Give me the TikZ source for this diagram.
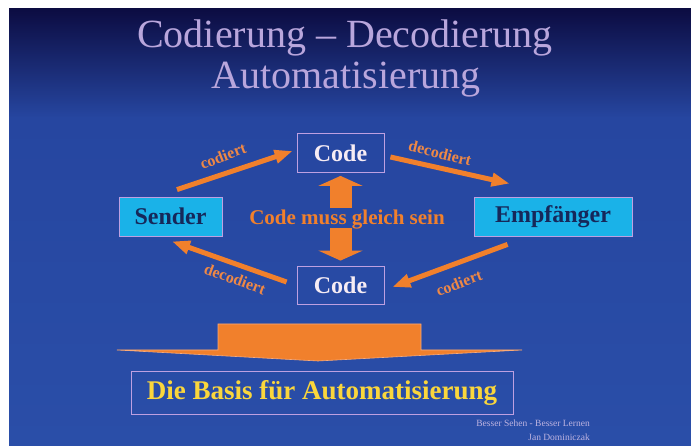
\documentclass[tikz,border=0pt]{standalone}
\usepackage{fontspec}
\setmainfont{Liberation Serif}
\usetikzlibrary{arrows.meta,calc}
\definecolor{bgtop}{RGB}{12,12,66}
\definecolor{bgmid}{RGB}{38,70,160}
\definecolor{bgbot}{RGB}{42,78,168}
\definecolor{lav}{RGB}{185,166,220}
\definecolor{boxline}{RGB}{190,160,225}
\definecolor{cyanfill}{RGB}{26,178,232}
\definecolor{navytext}{RGB}{22,40,90}
\definecolor{orng}{RGB}{241,128,44}
\definecolor{orlab}{RGB}{238,136,70}
\definecolor{orlight}{RGB}{250,170,120}
\definecolor{codetxt}{RGB}{246,236,244}
\definecolor{yel}{RGB}{250,214,60}
\definecolor{foot}{RGB}{190,180,225}
\begin{document}
\begin{tikzpicture}[x=1pt,y=-1pt,
  cbox/.style={draw=boxline, line width=0.8pt, fill=cyanfill, text=navytext,
    font=\bfseries\fontsize{24}{24}\selectfont, inner sep=0pt, minimum height=39pt},
  codebox/.style={draw=boxline, line width=0.8pt, text=codetxt,
    font=\bfseries\fontsize{24}{24}\selectfont, inner sep=0pt,
    minimum width=87pt, minimum height=39pt},
  flow/.style={draw=orng, line width=5pt, -{Triangle[length=18pt,width=13pt]}},
  blockarr/.style={draw=orng, line width=22pt, -{Triangle[length=10pt,width=44pt]}},
  lbl/.style={text=orlab, font=\bfseries\fontsize{16}{16}\selectfont, inner sep=0pt},
  titletext/.style={text=lav, font=\fontsize{40}{40}\selectfont, anchor=base, inner sep=0pt},
  foottext/.style={text=foot, font=\fontsize{9.5}{9.5}\selectfont, anchor=base east, inner sep=0pt}]
\useasboundingbox (0,0) rectangle (691,446);
\fill[white] (0,0) rectangle (691,446);
\shade[top color=bgtop, bottom color=bgmid] (9,9) rectangle (691,118);
\shade[top color=bgmid, bottom color=bgbot] (9,118) rectangle (691,446);

% title
\node[titletext] (t1) at (345,48) {Codierung – Decodierung};
\node[titletext] (t2) at (346,88.5) {Automatisierung};

% boxes
\node[cbox, minimum width=103pt] (sender) at (170.5,216.5) {Sender};
\node[cbox, minimum width=158pt] (empf) at (553,216.5) {Empfänger};
\node[codebox] (codetop) at (340.5,153) {Code};
\node[codebox, minimum height=38pt] (codebot) at (340.5,285) {Code};

% centre text and block arrows
\node[text=orng, font=\bfseries\fontsize{21}{21}\selectfont, inner sep=0pt] (gleich) at (347,220) {Code muss gleich sein};
\coordinate (upbase) at (340.5,208);
\coordinate (downbase) at (340.5,228);
\draw[blockarr] (upbase) -- ($(codetop.south)+(0,3)$);
\draw[blockarr] (downbase) -- ($(codebot.north)+(0,-5)$);

% flow arrows
\draw[flow] ($(sender.north)+(6.5,-7)$) -- ($(codetop.west)+(-4,-2)$);
\draw[flow] ($(codetop.east)+(6,4)$) -- ($(empf.north west)+(36,-13)$);
\draw[flow] ($(empf.south west)+(34,8)$) -- ($(codebot.east)+(8,2)$);
\draw[flow] ($(codebot.west)+(-10,-3)$) -- ($(sender.south)+(1.5,5)$);

% labels
\node[lbl, rotate=21] (l1) at (223,156) {codiert};
\node[lbl, rotate=-14] (l2) at (440,153) {decodiert};
\node[lbl, rotate=-20] (l3) at (235,279) {decodiert};
\node[lbl, rotate=21] (l4) at (459,283) {codiert};

% base block
\fill[orng, draw=orlight, line width=0.6pt] (117,350) -- (218,350) -- (218,324) -- (421,324) -- (421,350) -- (522,350) -- (318,361) -- cycle;

\node[draw=boxline, line width=0.8pt, minimum width=382pt, minimum height=43pt, inner sep=0pt,
  text=yel, font=\bfseries\fontsize{27}{27}\selectfont] (basis) at (322,392.5) {Die Basis für Automatisierung};

% footer
\node[foottext] (f1) at (590,426) {Besser Sehen - Besser Lernen};
\node[foottext] (f2) at (590,440) {Jan Dominiczak};
\end{tikzpicture}
\end{document}
